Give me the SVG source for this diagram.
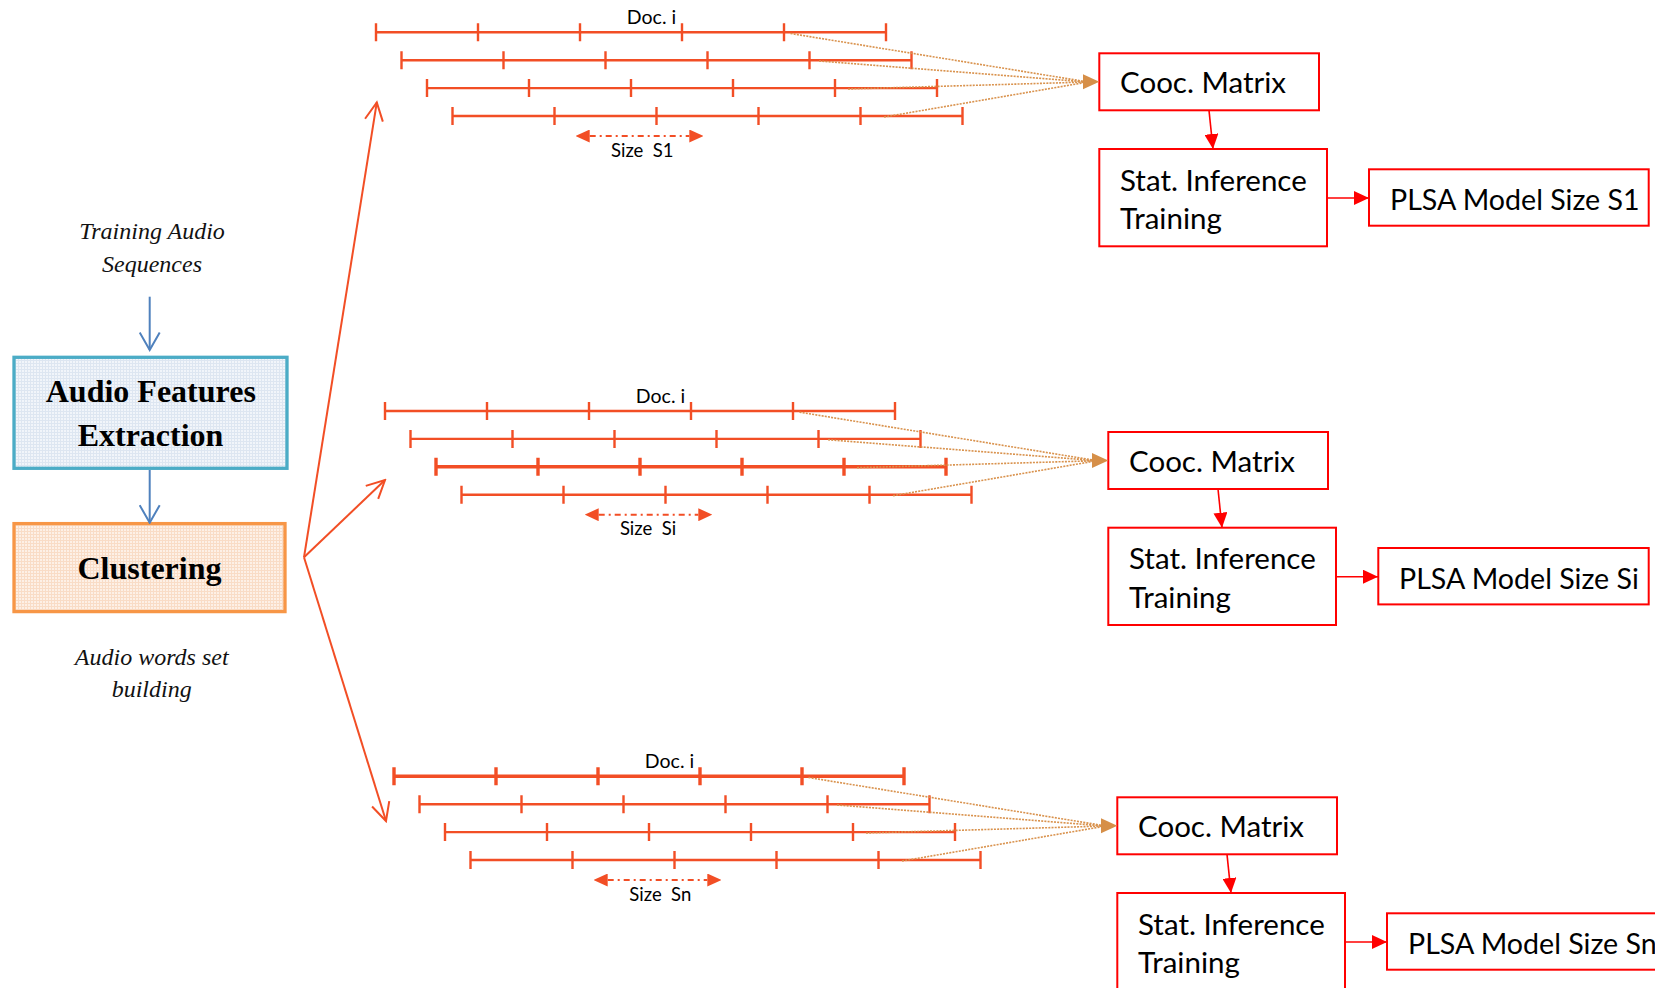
<svg xmlns="http://www.w3.org/2000/svg" width="1655" height="988" viewBox="0 0 1655 988">
<style>
.sans{font-family:Lato,'Liberation Sans',sans-serif;fill:#000}
.lbl{font-size:29.5px}
.plsa{font-size:28.6px}
.doc{font-size:19.5px}
.sz{font-size:18.5px}
.si{font-family:'Liberation Serif','Times New Roman',serif;font-style:italic;font-size:24px;fill:#111}
.sb{font-family:'Liberation Serif','Times New Roman',serif;font-weight:bold;font-size:32px;fill:#000}
.box{fill:#fff;stroke:#f00;stroke-width:2}
.row{stroke:#F24E25;stroke-width:2.4;fill:none}
.thick{stroke-width:3.4}
.fan{stroke:#F24E25;stroke-width:2;fill:none;marker-end:url(#openhead)}
.blue{stroke:#4F81BD;stroke-width:2;fill:none;marker-end:url(#bluehead)}
.dot{stroke:#D9924D;stroke-width:1.6;stroke-dasharray:2 1.2;fill:none}
.tan{fill:#D68F48}
.red{stroke:#f00;stroke-width:1.6;fill:none;marker-end:url(#redhead)}
.size{stroke:#F24E25;stroke-width:2;stroke-dasharray:6 4 2 4;fill:none;marker-start:url(#sizehead);marker-end:url(#sizehead)}
</style>
<defs>
<pattern id="gridBlue" width="3" height="3" patternUnits="userSpaceOnUse">
<rect width="3" height="3" fill="#F1F5FA"/>
<path d="M0 0.5H3M0.5 0V3" stroke="#DDE6F1" stroke-width="1"/>
</pattern>
<pattern id="gridOrange" width="3" height="3" patternUnits="userSpaceOnUse">
<rect width="3" height="3" fill="#FDF0E6"/>
<path d="M0 0.5H3M0.5 0V3" stroke="#F9DCC6" stroke-width="1"/>
</pattern>
<marker id="openhead" markerUnits="userSpaceOnUse" viewBox="0 0 22 22" markerWidth="22" markerHeight="22" refX="20" refY="11" orient="auto">
<path d="M2 2L20 11L2 20" fill="none" stroke="#F24E25" stroke-width="2"/>
</marker>
<marker id="bluehead" markerUnits="userSpaceOnUse" viewBox="0 0 20 22" markerWidth="20" markerHeight="22" refX="18.5" refY="11" orient="auto">
<path d="M1 1L18.5 11L1 21" fill="none" stroke="#4F81BD" stroke-width="2"/>
</marker>
<marker id="redhead" markerUnits="userSpaceOnUse" viewBox="0 0 15 14" markerWidth="15" markerHeight="14" refX="15" refY="7" orient="auto">
<path d="M0 0L15 7L0 14Z" fill="#f00"/>
</marker>
<marker id="sizehead" markerUnits="userSpaceOnUse" viewBox="0 0 14 13" markerWidth="14" markerHeight="13" refX="0" refY="6.5" orient="auto-start-reverse">
<path d="M0 0L14 6.5L0 13Z" fill="#F24E25"/>
</marker>
</defs>
<rect width="1655" height="988" fill="#fff"/>

<g id="label-training">
<text class="si" x="152" y="239" text-anchor="middle">Training Audio</text>
<text class="si" x="152" y="271.7" text-anchor="middle">Sequences</text>
</g>
<g id="node-features">
<rect x="14" y="357.3" width="273" height="111" fill="url(#gridBlue)" stroke="#4BACC6" stroke-width="3.3"/>
<text class="sb" x="150.8" y="401.7" text-anchor="middle">Audio Features</text>
<text class="sb" x="150.5" y="446" text-anchor="middle">Extraction</text>
</g>
<g id="node-clustering">
<rect x="14" y="523.6" width="271" height="88" fill="url(#gridOrange)" stroke="#F79646" stroke-width="3.3"/>
<text class="sb" x="149.5" y="579" text-anchor="middle">Clustering</text>
</g>
<g id="label-words">
<text class="si" x="151.7" y="665" text-anchor="middle">Audio words set</text>
<text class="si" x="151.7" y="697" text-anchor="middle">building</text>
</g>

<!-- Documents, size S1 -->
<g id="docs-s1">
<path class="row" d="M376 32.3H886M376 23.3V41.3M478 23.3V41.3M580 23.3V41.3M682 23.3V41.3M784 23.3V41.3M886 23.3V41.3"/>
<path class="row" d="M401.5 60.2H911.5M401.5 51.2V69.2M503.5 51.2V69.2M605.5 51.2V69.2M707.5 51.2V69.2M809.5 51.2V69.2M911.5 51.2V69.2"/>
<path class="row" d="M427 88.1H937M427 79.1V97.1M529 79.1V97.1M631 79.1V97.1M733 79.1V97.1M835 79.1V97.1M937 79.1V97.1"/>
<path class="row" d="M452.5 116H962.5M452.5 107V125M554.5 107V125M656.5 107V125M758.5 107V125M860.5 107V125M962.5 107V125"/>
<text class="sans doc" x="651.5" y="24" text-anchor="middle">Doc. i</text>
<path class="size" d="M589.7 136H689.3"/>
<text class="sans sz" x="642.3" y="156.7" text-anchor="middle" xml:space="preserve">Size  S1</text>
</g>
<g id="cooc-s1"><rect class="box" x="1099.3" y="53.3" width="219.7" height="57"/><text class="sans lbl" x="1120" y="93.3">Cooc. Matrix</text></g>
<g id="stat-s1"><rect class="box" x="1099.3" y="149" width="227.7" height="97.3"/><text class="sans lbl" x="1120" y="190.7">Stat. Inference</text><text class="sans lbl" x="1120" y="229.3">Training</text></g>
<g id="plsa-s1"><rect class="box" x="1369" y="169.3" width="279.7" height="56.4"/><text class="sans plsa" x="1390" y="210">PLSA Model Size S1</text></g>

<!-- Documents, size Si -->
<g id="docs-si" transform="translate(9 378.7)">
<path class="row" d="M376 32.3H886M376 23.3V41.3M478 23.3V41.3M580 23.3V41.3M682 23.3V41.3M784 23.3V41.3M886 23.3V41.3"/>
<path class="row" d="M401.5 60.2H911.5M401.5 51.2V69.2M503.5 51.2V69.2M605.5 51.2V69.2M707.5 51.2V69.2M809.5 51.2V69.2M911.5 51.2V69.2"/>
<path class="row thick" d="M427 88.1H937M427 79.1V97.1M529 79.1V97.1M631 79.1V97.1M733 79.1V97.1M835 79.1V97.1M937 79.1V97.1"/>
<path class="row" d="M452.5 116H962.5M452.5 107V125M554.5 107V125M656.5 107V125M758.5 107V125M860.5 107V125M962.5 107V125"/>
<text class="sans doc" x="651.5" y="24" text-anchor="middle">Doc. i</text>
<path class="size" d="M589.7 136H689.3"/>
<text class="sans sz" x="639" y="156.7" text-anchor="middle" xml:space="preserve">Size  Si</text>
</g>
<g id="cooc-si"><rect class="box" x="1108.3" y="432" width="219.7" height="57"/><text class="sans lbl" x="1129" y="472">Cooc. Matrix</text></g>
<g id="stat-si"><rect class="box" x="1108.3" y="527.7" width="227.7" height="97.3"/><text class="sans lbl" x="1129" y="569.4">Stat. Inference</text><text class="sans lbl" x="1129" y="608">Training</text></g>
<g id="plsa-si"><rect class="box" x="1378.3" y="548" width="270.4" height="56.4"/><text class="sans plsa" x="1399" y="588.7">PLSA Model Size Si</text></g>

<!-- Documents, size Sn -->
<g id="docs-sn" transform="translate(18 744)">
<path class="row thick" d="M376 32.3H886M376 23.3V41.3M478 23.3V41.3M580 23.3V41.3M682 23.3V41.3M784 23.3V41.3M886 23.3V41.3"/>
<path class="row" d="M401.5 60.2H911.5M401.5 51.2V69.2M503.5 51.2V69.2M605.5 51.2V69.2M707.5 51.2V69.2M809.5 51.2V69.2M911.5 51.2V69.2"/>
<path class="row" d="M427 88.1H937M427 79.1V97.1M529 79.1V97.1M631 79.1V97.1M733 79.1V97.1M835 79.1V97.1M937 79.1V97.1"/>
<path class="row" d="M452.5 116H962.5M452.5 107V125M554.5 107V125M656.5 107V125M758.5 107V125M860.5 107V125M962.5 107V125"/>
<text class="sans doc" x="651.5" y="24" text-anchor="middle">Doc. i</text>
<path class="size" d="M589.7 136H689.3"/>
<text class="sans sz" x="642.3" y="156.7" text-anchor="middle" xml:space="preserve">Size  Sn</text>
</g>
<g id="cooc-sn"><rect class="box" x="1117.3" y="797.3" width="219.7" height="57"/><text class="sans lbl" x="1138" y="837.3">Cooc. Matrix</text></g>
<g id="stat-sn"><rect class="box" x="1117.3" y="893" width="227.7" height="97.3"/><text class="sans lbl" x="1138" y="934.7">Stat. Inference</text><text class="sans lbl" x="1138" y="973.3">Training</text></g>
<g id="plsa-sn"><rect class="box" x="1387" y="913.3" width="300" height="56.4"/><text class="sans plsa" x="1408" y="954">PLSA Model Size Sn</text></g>

<g id="connectors">
<path class="blue" d="M149.7 296.7V350"/>
<path class="blue" d="M149.7 470V522.7"/>
<path class="fan" d="M304 557.3L376.8 102.4"/>
<path class="fan" d="M304 557.3L385 480"/>
<path class="fan" d="M304 557.3L386 821"/>
<g id="conn-s1">
<path class="dot" d="M790.5 33.5L1088 82M819 61L1088 82M848 89L1088 82M884 117L1088 82"/>
<path class="tan" d="M1083 74.2L1099.3 81.7L1083 89.2Z"/>
<path class="red" d="M1209 110.3L1213 149"/>
<path class="red" d="M1327 198H1369"/>
</g>
<g id="conn-si" transform="translate(9 378.7)">
<path class="dot" d="M790.5 33.5L1088 82M819 61L1088 82M848 89L1088 82M884 117L1088 82"/>
<path class="tan" d="M1083 74.2L1099.3 81.7L1083 89.2Z"/>
<path class="red" d="M1209 110.3L1213 149"/>
<path class="red" d="M1327 198H1369"/>
</g>
<g id="conn-sn" transform="translate(18 744)">
<path class="dot" d="M790.5 33.5L1088 82M819 61L1088 82M848 89L1088 82M884 117L1088 82"/>
<path class="tan" d="M1083 74.2L1099.3 81.7L1083 89.2Z"/>
<path class="red" d="M1209 110.3L1213 149"/>
<path class="red" d="M1327 198H1369"/>
</g>
</g>
</svg>
